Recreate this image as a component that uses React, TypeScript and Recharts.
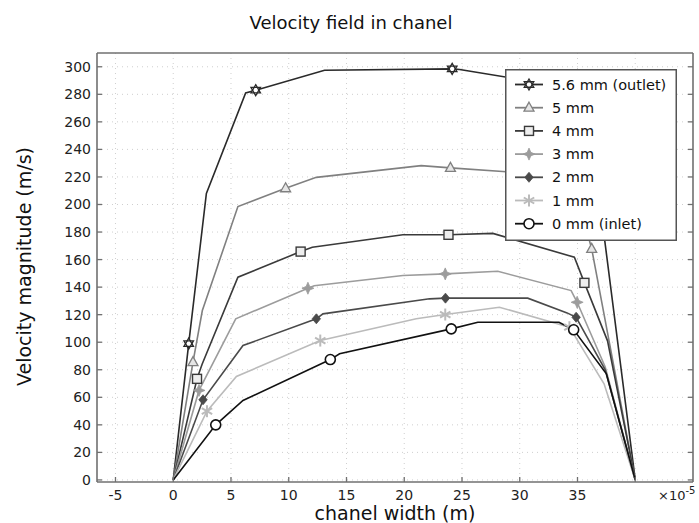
import React from 'react';
import { LineChart, Line, XAxis, YAxis, CartesianGrid, Legend } from 'recharts';

// x values are in units of 1e-5 m (axis shows "×10^-5")
const xTicks = [-5, 0, 5, 10, 15, 20, 25, 30, 35, 40];
const xTickLabels = ['-5', '0', '5', '10', '15', '20', '25', '30', '35', ''];
const yTicks = [0, 20, 40, 60, 80, 100, 120, 140, 160, 180, 200, 220, 240, 260, 280, 300];

const outletX = [0, 1.34, 2.87, 6.27, 7.14, 13.1, 24.15, 24.8, 35.7, 40];
const outletV = [0, 99, 208, 281, 283, 297.5, 298.5, 298, 283, 0];
const outletMarkers = [1.34, 7.14, 24.15];

const mm5X = [0, 1.71, 2.52, 5.6, 9.73, 12.39, 21.47, 24.0, 34.5, 36.23, 40];
const mm5V = [0, 85.5, 123, 198.5, 211.8, 219.7, 228.2, 226.6, 220.5, 167.8, 0];
const mm5Markers = [1.71, 9.73, 24.0, 36.23];

const mm4X = [0, 2.06, 2.5, 5.6, 11.03, 12.04, 19.88, 23.83, 27.67, 34.73, 35.6, 37.6, 40];
const mm4V = [0, 73.4, 84, 147.2, 165.8, 169, 178, 178, 179, 161.7, 143.1, 101, 0];
const mm4Markers = [2.06, 11.03, 23.83, 35.6];

const mm3X = [0, 2.23, 5.41, 11.66, 12.2, 19.88, 23.55, 28.1, 34.45, 34.97, 37.4, 40];
const mm3V = [0, 65, 117, 139.2, 141, 148.4, 149.6, 151.5, 137.5, 129, 82, 0];
const mm3Markers = [2.23, 11.66, 23.55, 34.97];

const mm2X = [0, 2.58, 6.04, 12.39, 12.96, 22.19, 23.57, 30.69, 34.1, 34.88, 37.4, 40];
const mm2V = [0, 58.2, 97.6, 117, 120.6, 131.5, 132, 132, 121.3, 118.1, 80, 0];
const mm2Markers = [2.58, 12.39, 23.57, 34.88];

const mm1X = [0, 2.92, 5.47, 12.73, 21.04, 23.55, 28.24, 34.3, 37.3, 40];
const mm1V = [0, 49.9, 75.1, 101.2, 117, 120.1, 125.4, 110.9, 69.8, 0];
const mm1Markers = [2.92, 12.73, 23.55, 34.3];

const mm0X = [0, 3.68, 6.04, 13.6, 14.4, 24.07, 26.37, 33.4, 34.67, 37.5, 40];
const mm0V = [0, 40, 57.7, 87.4, 91.6, 109.7, 114.5, 114.5, 109, 77, 0];
const mm0Markers = [3.68, 13.6, 24.07, 34.67];

const seriesNames = ['5.6 mm (outlet)', '5 mm', '4 mm', '3 mm', '2 mm', '1 mm', '0 mm (inlet)'];

type Shape = 'hexagram' | 'triangle' | 'square' | 'star4' | 'diamond' | 'asterisk' | 'circle';

const zip = (xs: number[], vs: number[]) => xs.map((x, i) => ({ x, v: vs[i] }));

const SERIES: { name: string; data: { x: number; v: number }[]; marks: number[]; color: string; shape: Shape }[] = [
  { name: seriesNames[0], data: zip(outletX, outletV), marks: outletMarkers, color: '#2a2a2a', shape: 'hexagram' },
  { name: seriesNames[1], data: zip(mm5X, mm5V), marks: mm5Markers, color: '#808080', shape: 'triangle' },
  { name: seriesNames[2], data: zip(mm4X, mm4V), marks: mm4Markers, color: '#3a3a3a', shape: 'square' },
  { name: seriesNames[3], data: zip(mm3X, mm3V), marks: mm3Markers, color: '#9c9c9c', shape: 'star4' },
  { name: seriesNames[4], data: zip(mm2X, mm2V), marks: mm2Markers, color: '#4a4a4a', shape: 'diamond' },
  { name: seriesNames[5], data: zip(mm1X, mm1V), marks: mm1Markers, color: '#bbbbbb', shape: 'asterisk' },
  { name: seriesNames[6], data: zip(mm0X, mm0V), marks: mm0Markers, color: '#111111', shape: 'circle' },
];

const FONT = 'DejaVu Sans, sans-serif';

function Marker({ x, y, shape, color }: { x: number; y: number; shape: Shape; color: string }) {
  const t = `translate(${x},${y})`;
  switch (shape) {
    case 'hexagram': {
      const r = 5.5;
      const a = r * 0.866;
      return (
        <g transform={t}>
          <polygon points={`0,${-r} ${a},${r / 2} ${-a},${r / 2}`} fill="#fff" stroke={color} strokeWidth={1.3} />
          <polygon points={`0,${r} ${a},${-r / 2} ${-a},${-r / 2}`} fill="none" stroke={color} strokeWidth={1.3} />
        </g>
      );
    }
    case 'triangle':
      return <polygon transform={t} points="0,-5.5 5,3.5 -5,3.5" fill="#e6e6e6" stroke={color} strokeWidth={1.3} />;
    case 'square':
      return <rect transform={t} x={-4.5} y={-4.5} width={9} height={9} fill="#eeeeee" stroke={color} strokeWidth={1.4} />;
    case 'star4':
      return (
        <path transform={t} d="M0,-6 L1.8,-1.8 L6,0 L1.8,1.8 L0,6 L-1.8,1.8 L-6,0 L-1.8,-1.8 Z" fill={color} stroke={color} strokeWidth={0.8} />
      );
    case 'diamond':
      return <path transform={t} d="M0,-5 L4.2,0 L0,5 L-4.2,0 Z" fill={color} stroke={color} strokeWidth={0.8} />;
    case 'asterisk':
      return (
        <g transform={t} stroke={color} strokeWidth={2}>
          <line x1={0} y1={-6} x2={0} y2={6} />
          <line x1={-5.2} y1={-3} x2={5.2} y2={3} />
          <line x1={-5.2} y1={3} x2={5.2} y2={-3} />
        </g>
      );
    case 'circle':
    default:
      return <circle cx={x} cy={y} r={5} fill="#fff" stroke={color} strokeWidth={1.6} />;
  }
}

const makeDot = (s: (typeof SERIES)[number]) => (props: any) => {
  const { cx, cy, payload, index } = props;
  const key = `${s.name}-${index}`;
  if (!payload || !s.marks.includes(payload.x) || cx == null || cy == null) return <g key={key} />;
  return (
    <g key={key}>
      <Marker x={cx} y={cy} shape={s.shape} color={s.color} />
    </g>
  );
};

const TICK_LEN = 5;
const AXIS_COLOR = '#707070';

const BottomTick = (props: any) => {
  const { x, y, payload, index } = props;
  const label = xTickLabels[xTicks.indexOf(payload.value)] ?? '';
  return (
    <g key={`bt-${index}`}>
      <line x1={x} y1={y} x2={x} y2={y - TICK_LEN} stroke={AXIS_COLOR} strokeWidth={1.3} />
      <text x={x} y={y + 13} textAnchor="middle" dominantBaseline="central" fontSize={14} fontFamily={FONT} fill="#222">
        {label}
      </text>
    </g>
  );
};

const TopTick = (props: any) => {
  const { x, y, index } = props;
  return <line key={`tt-${index}`} x1={x} y1={y} x2={x} y2={y + TICK_LEN} stroke={AXIS_COLOR} strokeWidth={1.3} />;
};

const LeftTick = (props: any) => {
  const { x, y, payload, index } = props;
  return (
    <g key={`lt-${index}`}>
      <line x1={x} y1={y} x2={x + TICK_LEN} y2={y} stroke={AXIS_COLOR} strokeWidth={1.3} />
      <text x={x - 6} y={y} textAnchor="end" dominantBaseline="central" fontSize={14} fontFamily={FONT} fill="#222">
        {payload.value}
      </text>
    </g>
  );
};

const RightTick = (props: any) => {
  const { x, y, index } = props;
  return <line key={`rt-${index}`} x1={x} y1={y} x2={x - TICK_LEN} y2={y} stroke={AXIS_COLOR} strokeWidth={1.3} />;
};

const LegendBox = () => (
  <svg width={172} height={172} style={{ display: 'block' }}>
    <rect x={0.75} y={0.75} width={170.5} height={170.5} fill="#fff" stroke="#555" strokeWidth={1.5} />
    {SERIES.map((s, i) => {
      const cy = 15.5 + i * 23.2;
      return (
        <g key={s.name}>
          <line x1={10} y1={cy} x2={38} y2={cy} stroke={s.color} strokeWidth={1.8} />
          <Marker x={24} y={cy} shape={s.shape} color={s.color} />
          <text x={47} y={cy} dominantBaseline="central" fontSize={14.5} fontFamily={FONT} fill="#111">
            {s.name}
          </text>
        </g>
      );
    })}
  </svg>
);

export default function App() {
  return (
    <div style={{ width: 699, height: 523, background: '#fff', position: 'relative' }}>
      <style>{`body{margin:0;background:#fff}`}</style>
      <LineChart width={699} height={523} margin={{ top: 43, right: 0, bottom: 11, left: 37 }}>
        <CartesianGrid stroke="#cfcfcf" strokeDasharray="1 4" verticalValues={xTicks} horizontalValues={yTicks} />
        <XAxis
          dataKey="x"
          type="number"
          domain={[-6.6, 45]}
          allowDataOverflow
          ticks={xTicks}
          interval={0}
          height={30}
          tickSize={0}
          tickMargin={0}
          tick={BottomTick}
          axisLine={{ stroke: AXIS_COLOR, strokeWidth: 1.6 }}
          label={{
            content: (p: any) => {
              const vb = p.viewBox || { x: 97, y: 482, width: 596, height: 30 };
              return (
                <g>
                  <text x={vb.x + vb.width / 2} y={vb.y + 31} textAnchor="middle" dominantBaseline="central" fontSize={19} fontFamily={FONT} fill="#111">
                    chanel width (m)
                  </text>
                  <text x={vb.x + vb.width - 35} y={vb.y + 18} fontSize={13} fontFamily={FONT} fill="#222">
                    ×10
                    <tspan dy={-6} fontSize={10}>-5</tspan>
                  </text>
                </g>
              );
            },
          }}
        />
        <XAxis
          xAxisId="top"
          orientation="top"
          type="number"
          domain={[-6.6, 45]}
          allowDataOverflow
          ticks={xTicks}
          interval={0}
          height={10}
          tickSize={0}
          tickMargin={0}
          tick={TopTick}
          axisLine={{ stroke: AXIS_COLOR, strokeWidth: 1.6 }}
          label={{
            content: (p: any) => {
              const vb = p.viewBox || { x: 97, y: 43, width: 596, height: 10 };
              return (
                <text x={vb.x + vb.width / 2 - 44} y={vb.y - 21} textAnchor="middle" dominantBaseline="central" fontSize={18} fontFamily={FONT} fill="#111">
                  Velocity field in chanel
                </text>
              );
            },
          }}
        />
        <YAxis
          type="number"
          domain={[-1.5, 310]}
          allowDataOverflow
          ticks={yTicks}
          interval={0}
          width={60}
          tickSize={0}
          tickMargin={0}
          tick={LeftTick}
          axisLine={{ stroke: AXIS_COLOR, strokeWidth: 1.6 }}
          label={{
            content: (p: any) => {
              const vb = p.viewBox || { x: 37, y: 53, width: 60, height: 429 };
              const cx = vb.x - 13;
              const cy = vb.y + vb.height / 2 - 1;
              return (
                <text x={cx} y={cy} transform={`rotate(-90 ${cx} ${cy})`} textAnchor="middle" dominantBaseline="central" fontSize={19} fontFamily={FONT} fill="#111">
                  Velocity magnitude (m/s)
                </text>
              );
            },
          }}
        />
        <YAxis
          yAxisId="right"
          orientation="right"
          type="number"
          domain={[-1.5, 310]}
          allowDataOverflow
          ticks={yTicks}
          interval={0}
          width={6}
          tickSize={0}
          tickMargin={0}
          tick={RightTick}
          axisLine={{ stroke: AXIS_COLOR, strokeWidth: 1.6 }}
        />
        {SERIES.map((s) => (
          <Line
            key={s.name}
            name={s.name}
            data={s.data}
            dataKey="v"
            type="linear"
            stroke={s.color}
            strokeWidth={1.6}
            dot={makeDot(s)}
            activeDot={false}
            isAnimationActive={false}
          />
        ))}
        <Legend
          layout="horizontal"
          align="center"
          verticalAlign="middle"
          content={() => <LegendBox />}
          wrapperStyle={{ position: 'absolute', left: 505, top: 69, width: 172, height: 172 }}
        />
      </LineChart>
    </div>
  );
}
